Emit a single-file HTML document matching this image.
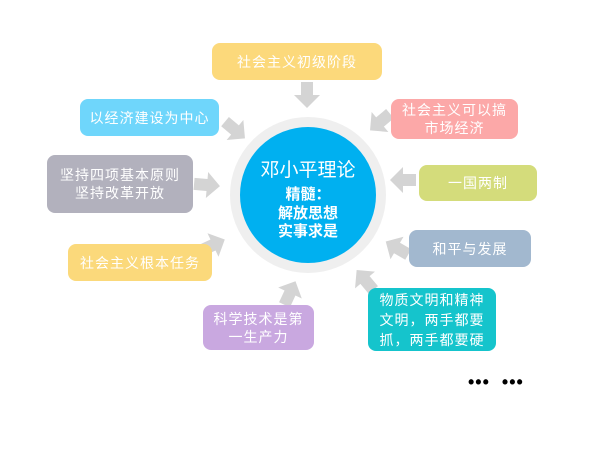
<!DOCTYPE html>
<html><head><meta charset="utf-8"><style>
body{margin:0;width:600px;height:450px;background:#fff;position:relative;overflow:hidden;font-family:"Liberation Sans","Noto Sans CJK SC",sans-serif}
.b{position:absolute;border-radius:8px;color:#fff;display:flex;align-items:center;justify-content:center;text-align:center;font-size:14px;line-height:18px;letter-spacing:1px}
svg{position:absolute;left:0;top:0}
</style></head><body>
<svg width="600" height="450">
<defs><polygon id="a" points="-13,-6 0,-6 0,-13 13,0 0,13 0,6 -13,6" fill="#d4d4d4"/></defs>
<use href="#a" transform="translate(307,95) rotate(90)"/>
<use href="#a" transform="translate(235,130) rotate(40)"/>
<use href="#a" transform="translate(207,185) rotate(5)"/>
<use href="#a" transform="translate(213,245) rotate(-25)"/>
<use href="#a" transform="translate(290,293) rotate(-65)"/>
<use href="#a" transform="translate(365,280) rotate(-130)"/>
<use href="#a" transform="translate(397,248) rotate(-150)"/>
<use href="#a" transform="translate(403,180) rotate(180)"/>
<use href="#a" transform="translate(380,122) rotate(140)"/>
<circle cx="308" cy="195" r="73" fill="#00b0f0" stroke="#efefef" stroke-width="10"/>
<text x="308" y="176" font-size="19" fill="#fff" text-anchor="middle" font-family="Liberation Sans,Noto Sans CJK SC,sans-serif">邓小平理论</text>
<text x="308" y="199" font-size="15" fill="#fff" text-anchor="middle" font-weight="bold" font-family="Liberation Sans,Noto Sans CJK SC,sans-serif">精髓：</text>
<text x="308" y="218" font-size="15" fill="#fff" text-anchor="middle" font-weight="bold" font-family="Liberation Sans,Noto Sans CJK SC,sans-serif">解放思想</text>
<text x="308" y="236" font-size="15" fill="#fff" text-anchor="middle" font-weight="bold" font-family="Liberation Sans,Noto Sans CJK SC,sans-serif">实事求是</text>
</svg>
<div class="b" style="left:212px;top:43px;width:170px;height:37px;background:#fcd97b">社会主义初级阶段</div>
<div class="b" style="left:80px;top:99px;width:139px;height:37px;background:#6fd6fb">以经济建设为中心</div>
<div class="b" style="left:391px;top:99px;width:127px;height:40px;background:#fca8a8">社会主义可以搞<br>市场经济</div>
<div class="b" style="left:47px;top:155px;width:146px;height:58px;background:#b2b1bd">坚持四项基本原则<br>坚持改革开放</div>
<div class="b" style="left:419px;top:165px;width:118px;height:36px;background:#d4dc7b">一国两制</div>
<div class="b" style="left:68px;top:244px;width:144px;height:37px;background:#fbd97b">社会主义根本任务</div>
<div class="b" style="left:409px;top:230px;width:122px;height:37px;background:#a2b8cf">和平与发展</div>
<div class="b" style="left:203px;top:305px;width:111px;height:45px;background:#c9a8e0">科学技术是第<br>一生产力</div>
<div class="b" style="left:368px;top:288px;width:128px;height:63px;background:#15c4cc;line-height:20px">物质文明和精神<br>文明，两手都要<br>抓，两手都要硬</div>
<div style="position:absolute;left:468px;top:372px;font-size:18px;font-weight:bold;letter-spacing:1px">•••&nbsp;&nbsp;•••</div>
</body></html>
